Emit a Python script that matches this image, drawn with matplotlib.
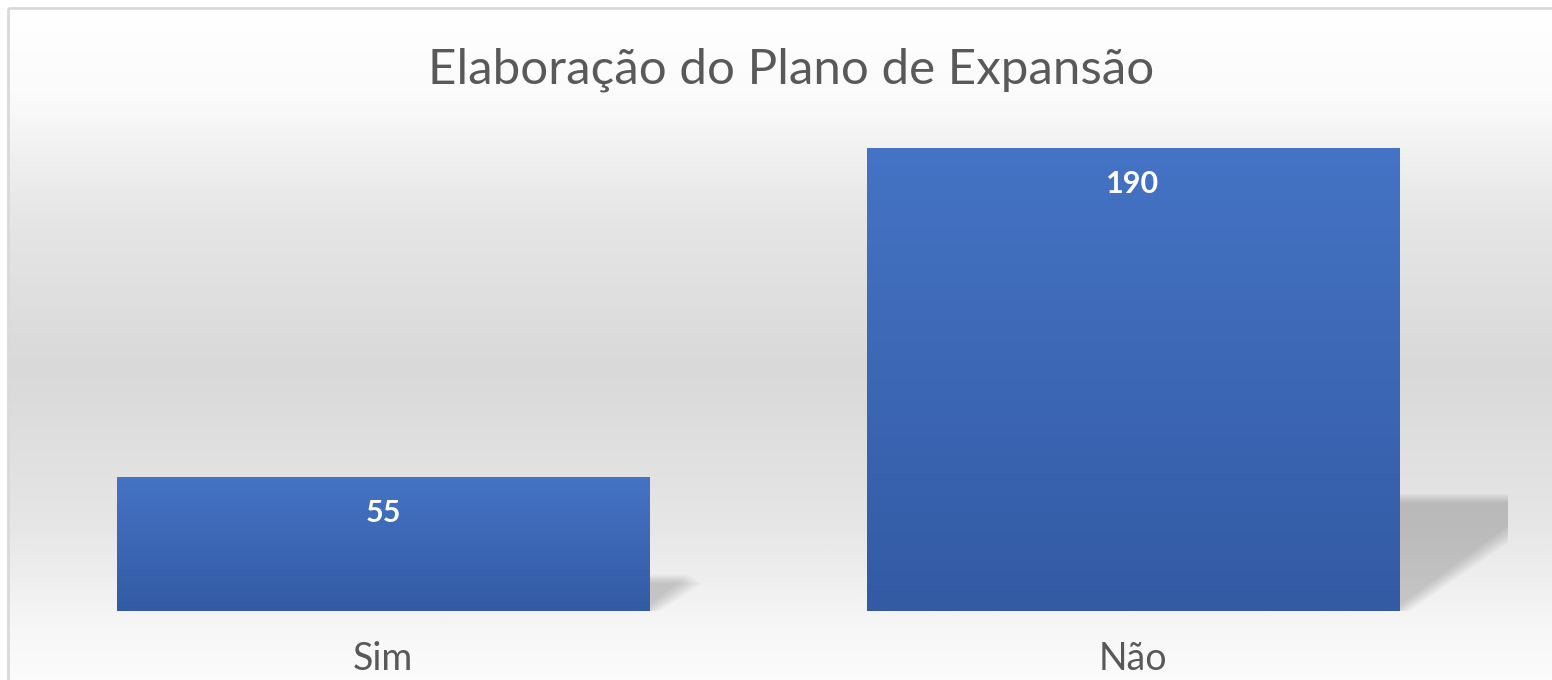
import numpy as np
import matplotlib.pyplot as plt
from matplotlib.colors import LinearSegmentedColormap
from matplotlib.patches import Rectangle, Polygon
import matplotlib.transforms as mtransforms

# dados do gráfico
categorias = ['Sim', 'Não']
valores = [55, 190]
titulo = 'Elaboração do Plano de Expansão'

W, H = 1552, 680
fig = plt.figure(figsize=(W / 100, H / 100), dpi=100)
fig.patch.set_facecolor('white')

# fundo com gradiente (estilo Excel)
bg = fig.add_axes([0, 0, 1, 1], zorder=-5)
bg.set_xlim(0, W)
bg.set_ylim(H, 0)
bg.axis('off')
bg_cmap = LinearSegmentedColormap.from_list(
    'fundo', [(0.0, '#ffffff'), (0.12, '#fbfbfb'), (0.30, '#e6e6e6'),
              (0.52, '#d9d9d9'), (0.75, '#e6e6e6'), (0.90, '#f7f7f7'), (1.0, '#fdfdfd')])
grad = np.linspace(0, 1, 400).reshape(-1, 1)
bg.imshow(grad, cmap=bg_cmap, extent=(8, W + 20, 700, 8), aspect='auto', zorder=0)
bg.add_patch(Rectangle((8, 8), W + 20, 700, fill=False, edgecolor='#d9d9d9', lw=2, zorder=1))

# área do gráfico
left, right = 8, 1508
base_px, px_por_unid = 611, 2.437
ymax = 200
ax = fig.add_axes([left / W, (H - base_px) / H, (right - left) / W, ymax * px_por_unid / H])
ax.set_xlim(-0.5, 1.5)
ax.set_ylim(0, ymax)
ax.patch.set_alpha(0)
for s in ax.spines.values():
    s.set_visible(False)
ax.set_xticks([])
ax.set_yticks([])

largura = 0.71
px_x = 1 / 750          # 1 pixel em unidades de x
px_y = 1 / px_por_unid  # 1 pixel em unidades de y
bar_cmap = LinearSegmentedColormap.from_list('barra', ['#335ba4', '#4573c5'])

for i, v in enumerate(valores):
    x0, x1 = i - largura / 2, i + largura / 2
    # sombra em perspectiva (borrada com várias camadas)
    h = 0.245 * v
    dx = 1.4 * h * px_por_unid * px_x
    for k in range(8):
        e = (k - 3) * 2.0
        pts = [(x0 + dx, h - e * px_y * 0.6), (x1 + dx + e * px_x, h - e * px_y * 0.6),
               (x1 + e * px_x * 1.3, 0), (x0, 0)]
        ax.add_patch(Polygon(pts, closed=True, facecolor='black', edgecolor='none',
                             alpha=0.022, zorder=1))
    # barra com gradiente vertical
    barra = ax.bar(i, v, width=largura, color='#4472c4', zorder=2)[0]
    im = ax.imshow(np.linspace(0, 1, 200).reshape(-1, 1), cmap=bar_cmap, origin='lower',
                   extent=(x0, x1, 0, v), aspect='auto', zorder=3)
    im.set_clip_path(barra)
    # rótulo de dados
    ax.text(i, v - 36 * px_y, str(v), ha='center', va='center', color='white',
            fontsize=22, fontweight='bold', family='Lato', zorder=4)

ax.set_xlim(-0.5, 1.5)
ax.set_ylim(0, ymax)

# rótulos das categorias
trans = mtransforms.blended_transform_factory(ax.transData, fig.transFigure)
for i, c in enumerate(categorias):
    ax.text(i, (H - 670) / H, c, transform=trans, ha='center', va='baseline',
            fontsize=27, color='#595959', family='Lato', clip_on=False)

fig.text(791 / W, (H - 83) / H, titulo, ha='center', va='baseline',
         fontsize=35.5, color='#595959', family='Lato')

fig.savefig('out.png', dpi=100)
